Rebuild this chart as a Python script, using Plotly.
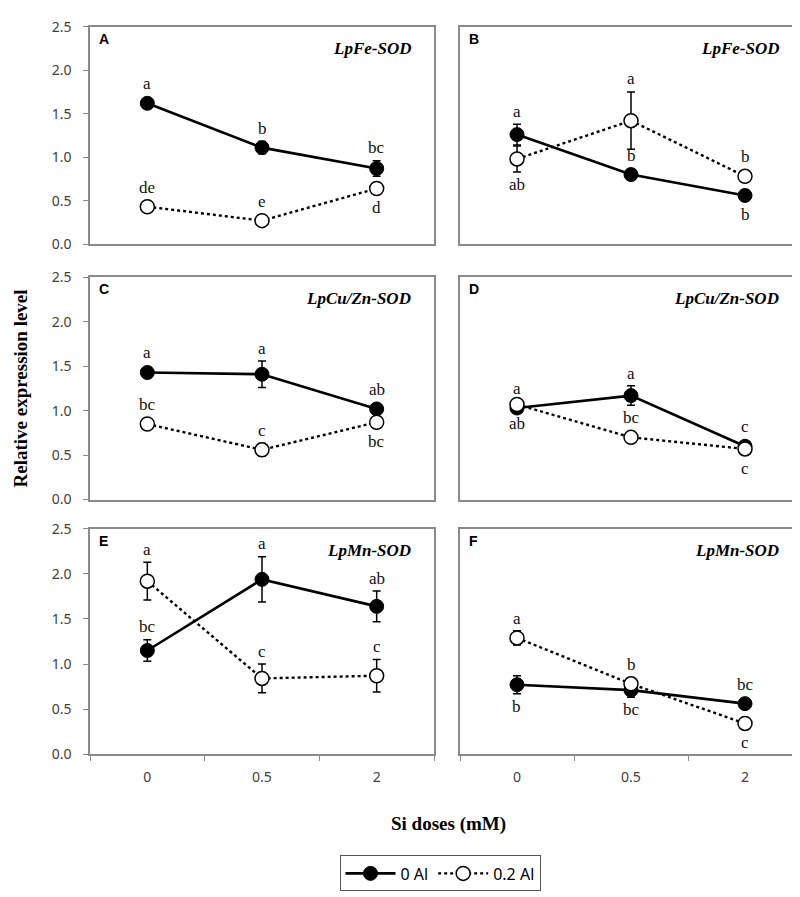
import plotly.graph_objects as go

doses = ["0", "0.5", "2"]
panel_ids = ["A", "B", "C", "D", "E", "F"]
genes = ["LpFe-SOD", "LpFe-SOD", "LpCu/Zn-SOD", "LpCu/Zn-SOD", "LpMn-SOD", "LpMn-SOD"]

# 0 Al (filled) values, errors, letters, letter side (+1 above, -1 below)
al0_vals = [
    [1.62, 1.11, 0.87],
    [1.26, 0.80, 0.56],
    [1.43, 1.41, 1.02],
    [1.03, 1.17, 0.60],
    [1.15, 1.94, 1.64],
    [0.77, 0.71, 0.56],
]
al0_err = [
    [0.06, 0.07, 0.09],
    [0.12, 0.06, 0.04],
    [0.05, 0.15, 0.04],
    [0.04, 0.11, 0.03],
    [0.12, 0.25, 0.17],
    [0.10, 0.08, 0.03],
]
al0_let = [
    ["a", "b", "bc"],
    ["a", "b", "b"],
    ["a", "a", "ab"],
    ["a", "a", "c"],
    ["bc", "a", "ab"],
    ["b", "bc", "bc"],
]
al0_side = [
    [1, 1, 1],
    [1, 1, -1],
    [1, 1, 1],
    [1, 1, 1],
    [1, 1, 1],
    [-1, -1, 1],
]

# 0.2 Al (open) values, errors, letters, side
al02_vals = [
    [0.43, 0.27, 0.64],
    [0.98, 1.42, 0.78],
    [0.85, 0.56, 0.87],
    [1.07, 0.70, 0.57],
    [1.92, 0.84, 0.87],
    [1.29, 0.78, 0.34],
]
al02_err = [
    [0.03, 0.04, 0.03],
    [0.15, 0.33, 0.03],
    [0.06, 0.07, 0.06],
    [0.04, 0.03, 0.03],
    [0.21, 0.16, 0.18],
    [0.08, 0.04, 0.03],
]
al02_let = [
    ["de", "e", "d"],
    ["ab", "a", "b"],
    ["bc", "c", "bc"],
    ["ab", "bc", "c"],
    ["a", "c", "c"],
    ["a", "b", "c"],
]
al02_side = [
    [1, 1, -1],
    [-1, 1, 1],
    [1, 1, -1],
    [-1, 1, -1],
    [1, 1, 1],
    [1, 1, -1],
]

W, H = 800, 897
col_px = [(82, 426), (452, 794)]
row_px = [(9, 231), (265, 492), (522, 752)]
YMAX = 2.5

AXIS_GREY = "#8a8a8a"
TICK_FONT = dict(family="Noto Sans, Open Sans, sans-serif", size=14, color="#404040")
SERIF = "Liberation Serif, Times New Roman, serif"

fig = go.Figure()
annotations = []

for i in range(6):
    r, c = divmod(i, 2)
    x0, x1 = col_px[c]
    y0, y1 = row_px[r]
    n = i + 1
    xa = "xaxis" if n == 1 else f"xaxis{n}"
    ya = "yaxis" if n == 1 else f"yaxis{n}"
    xr = "x" if n == 1 else f"x{n}"
    yr = "y" if n == 1 else f"y{n}"
    px_per_unit = (y1 - y0) / YMAX

    fig.add_trace(go.Scatter(
        x=doses, y=al0_vals[i], xaxis=xr, yaxis=yr, mode="lines+markers",
        name="0 Al", showlegend=(i == 0),
        line=dict(color="black", width=2.6),
        marker=dict(size=14, color="black", line=dict(color="black", width=1)),
        error_y=dict(type="data", array=al0_err[i], color="black", thickness=1.5, width=4),
    ))
    fig.add_trace(go.Scatter(
        x=doses, y=al02_vals[i], xaxis=xr, yaxis=yr, mode="lines+markers",
        name="0.2 Al", showlegend=(i == 0),
        line=dict(color="black", width=2.4, dash="dot"),
        marker=dict(size=14, color="white", line=dict(color="black", width=1.5)),
        error_y=dict(type="data", array=al02_err[i], color="black", thickness=1.5, width=4),
    ))

    bottom = (r == 2)
    fig.layout[xa] = dict(
        domain=[x0 / W, x1 / W], anchor=yr, type="category",
        range=[-0.5, 2.5], showgrid=False, zeroline=False,
        showline=True, linecolor=AXIS_GREY, linewidth=1.5, mirror=True,
        tickson="boundaries",
        ticks="outside" if bottom else "", ticklen=5, tickcolor=AXIS_GREY, tickwidth=1.2,
        showticklabels=bottom, tickfont=TICK_FONT, ticklabelstandoff=9,
    )
    fig.layout[ya] = dict(
        domain=[1 - y1 / H, 1 - y0 / H], anchor=xr, range=[0, YMAX],
        tickvals=[0, 0.5, 1.0, 1.5, 2.0, 2.5], ticktext=["0.0", "0.5", "1.0", "1.5", "2.0", "2.5"],
        showgrid=False, zeroline=False,
        showline=True, linecolor=AXIS_GREY, linewidth=1.5, mirror=True,
        ticks="outside" if c == 0 else "", ticklen=5, tickcolor=AXIS_GREY, tickwidth=1.2,
        showticklabels=(c == 0), tickfont=TICK_FONT, ticklabelstandoff=9,
    )

    # significance letters
    for vals, errs, lets, sides in ((al0_vals[i], al0_err[i], al0_let[i], al0_side[i]),
                                     (al02_vals[i], al02_err[i], al02_let[i], al02_side[i])):
        for k in range(3):
            off = max(errs[k] * px_per_unit, 7) + 1
            s = sides[k]
            annotations.append(dict(
                x=k, y=vals[k], xref=xr, yref=yr, text=lets[k], showarrow=False,
                yanchor="bottom" if s > 0 else "top", yshift=s * off,
                font=dict(family=SERIF, size=17, color="#111"),
            ))

    # panel letter
    annotations.append(dict(
        x=(x0 + 7) / W, y=1 - (y0 + 12) / H, xref="paper", yref="paper",
        text=f"<b>{panel_ids[i]}</b>", showarrow=False, xanchor="left", yanchor="middle",
        font=dict(family="Liberation Sans, Arial, sans-serif", size=14, color="black"),
    ))
    # gene name
    annotations.append(dict(
        x=(x1 - 21) / W, y=1 - (y0 + 22) / H, xref="paper", yref="paper",
        text=f"<b><i>{genes[i]}</i></b>", showarrow=False, xanchor="right", yanchor="middle",
        font=dict(family=SERIF, size=17, color="black"),
    ))

annotations.append(dict(
    x=0, y=1 - 379 / H, xref="paper", yref="paper", text="<b>Relative expression level</b>",
    showarrow=False, textangle=-90, xanchor="left", yanchor="middle",
    font=dict(family=SERIF, size=19, color="black"),
))
annotations.append(dict(
    x=440 / W, y=1 - 823 / H, xref="paper", yref="paper", text="<b>Si doses (mM)</b>",
    showarrow=False, xanchor="center", yanchor="middle",
    font=dict(family=SERIF, size=19, color="black"),
))

fig.update_layout(
    width=W, height=H, margin=dict(l=0, r=0, t=0, b=0),
    plot_bgcolor="white", paper_bgcolor="white",
    annotations=annotations,
    legend=dict(
        orientation="h", x=432 / W, y=1 - 874 / H, xanchor="center", yanchor="middle",
        bordercolor="#555", borderwidth=1, bgcolor="white",
        font=dict(family="Noto Sans, Open Sans, sans-serif", size=16, color="black"),
        itemwidth=50, tracegroupgap=0,
    ),
)

fig.write_html("out.html")
